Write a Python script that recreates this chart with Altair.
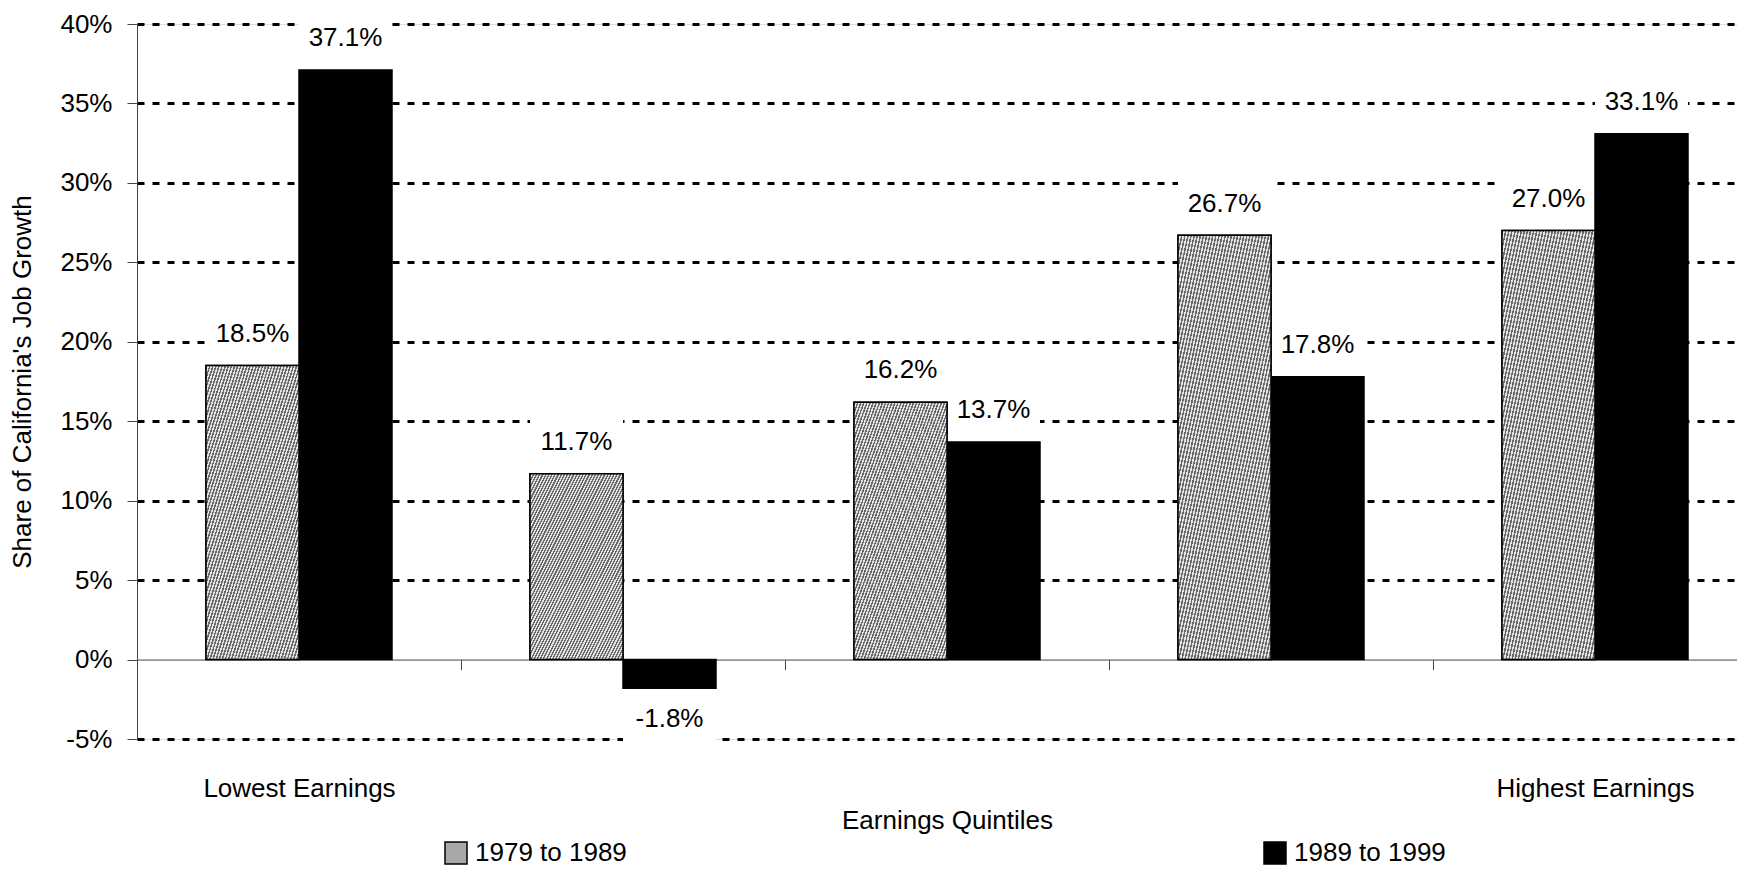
import altair as alt
import pandas as pd

# ---- data ----
quintiles = ["Q1", "Q2", "Q3", "Q4", "Q5"]
tick_labels = ["Lowest Earnings", "", "", "", "Highest Earnings"]
periods = ["1979 to 1989", "1989 to 1999"]
share_1979_1989 = [18.5, 11.7, 16.2, 26.7, 27.0]
share_1989_1999 = [37.1, -1.8, 13.7, 17.8, 33.1]
y_ticks = [-5, 0, 5, 10, 15, 20, 25, 30, 35, 40]

rows = []
for i, q in enumerate(quintiles):
    rows.append({"quintile": q, "period": periods[0], "share": share_1979_1989[i]})
    rows.append({"quintile": q, "period": periods[1], "share": share_1989_1999[i]})
df = pd.DataFrame(rows)

FONT = "Liberation Sans"
FS = 26
W, H = 1600, 715
STEP = 324

# fine diagonal hatch imitation (low contrast to avoid moire)
N = 60
DARK_FRAC = 0.5
stops = []
for k in range(N):
    a = round(k / N, 5)
    m = round((k + DARK_FRAC) / N, 5)
    b = round(min((k + 1) / N, 1.0), 5)
    stops += [
        {"offset": a, "color": "#6a6a6a"},
        {"offset": m, "color": "#6a6a6a"},
        {"offset": m, "color": "#e2e2e2"},
        {"offset": b, "color": "#e2e2e2"},
    ]
hatch = {"gradient": "linear", "x1": 0, "y1": 0, "x2": 1, "y2": 1, "stops": stops}

q_list = "[" + ",".join("'%s'" % q for q in quintiles) + "]"
l_list = "[" + ",".join("'%s'" % l for l in tick_labels) + "]"
label_expr = "%s[indexof(%s, datum.value)]" % (l_list, q_list)

x_enc = alt.X(
    "quintile:N",
    sort=quintiles,
    scale=alt.Scale(domain=quintiles, range=[0, 5 * STEP], paddingInner=0, paddingOuter=0),
    axis=alt.Axis(
        orient="bottom",
        offset=-(H * 5 / 45),
        domainColor="#444444",
        domainWidth=1,
        tickColor="#444444",
        tickWidth=1,
        tickSize=10,
        tickBand="extent",
        labelExpr=label_expr,
        labelAngle=0,
        labelLimit=0,
        labelFont=FONT,
        labelFontSize=FS,
        labelColor="black",
        labelPadding=106,
        title="Earnings Quintiles",
        titleFont=FONT,
        titleFontSize=FS,
        titleFontWeight="normal",
        titleColor="black",
        titlePadding=6,
        grid=False,
    ),
)
xo_enc = alt.XOffset(
    "period:N",
    sort=periods,
    scale=alt.Scale(domain=periods, paddingInner=0, paddingOuter=0.742),
)
y_scale = alt.Scale(domain=[-5, 40], nice=False, zero=False)
y_axis = alt.Axis(
    values=y_ticks,
    labelExpr="datum.value + '%'",
    labelFont=FONT,
    labelFontSize=FS,
    labelColor="black",
    labelPadding=15,
    tickSize=10,
    tickColor="#444444",
    tickWidth=1,
    domainColor="#444444",
    domainWidth=1,
    grid=True,
    gridColor="black",
    gridWidth=3,
    gridDash=[7, 8],
    gridOpacity=alt.condition("datum.value === 0", alt.value(0), alt.value(1)),
    title="Share of California's Job Growth",
    titleFont=FONT,
    titleFontSize=FS,
    titleFontWeight="normal",
    titleColor="black",
    titlePadding=24,
)

base = alt.Chart(df).transform_calculate(
    box_top="datum.share >= 0 ? datum.share + 3.5 : datum.share - 3.5",
    label_y="datum.share >= 0 ? datum.share + 2.0 : datum.share - 1.95",
    label="(datum.share < 0 ? '-' : '') + format(abs(datum.share), '.1f') + '%'",
)

knock = base.mark_bar(color="white").encode(
    x=x_enc,
    xOffset=xo_enc,
    y=alt.Y("share:Q", scale=y_scale, axis=y_axis),
    y2="box_top:Q",
)

bars = base.mark_bar(stroke="black", strokeWidth=1.5).encode(
    x=x_enc,
    xOffset=xo_enc,
    y=alt.Y("share:Q", scale=y_scale, axis=y_axis),
    y2=alt.datum(0),
    color=alt.Color(
        "period:N",
        sort=periods,
        scale=alt.Scale(domain=periods, range=["#a8a8a8", "black"]),
        legend=alt.Legend(
            orient="none",
            legendX=306,
            legendY=816,
            direction="horizontal",
            title=None,
            symbolType="square",
            symbolSize=484,
            symbolStrokeColor="black",
            symbolStrokeWidth=1.5,
            symbolOpacity=1,
            labelFont=FONT,
            labelFontSize=FS,
            labelColor="black",
            labelOffset=6,
            labelLimit=0,
            columnPadding=634,
        ),
    ),
)

hatched = base.transform_filter(alt.datum.period == periods[0]).mark_bar(
    fill=hatch, stroke="black", strokeWidth=1.5
).encode(
    x=x_enc,
    xOffset=xo_enc,
    y=alt.Y("share:Q", scale=y_scale, axis=y_axis),
    y2=alt.datum(0),
)

labels = base.mark_text(
    font=FONT, fontSize=FS, color="black", baseline="middle", align="center"
).encode(
    x=x_enc,
    xOffset=xo_enc,
    y=alt.Y("label_y:Q", scale=y_scale, axis=y_axis),
    text="label:N",
)

chart = (
    alt.layer(knock, bars, hatched, labels)
    .properties(
        width=W,
        height=H,
        autosize=alt.AutoSizeParams(type="none"),
        padding={"left": 129, "top": 16, "right": 0, "bottom": 127},
        background="white",
    )
    .configure_view(stroke=None)
    .configure(font=FONT)
)

chart.save("out.html", embed_options={"renderer": "svg", "actions": False})
